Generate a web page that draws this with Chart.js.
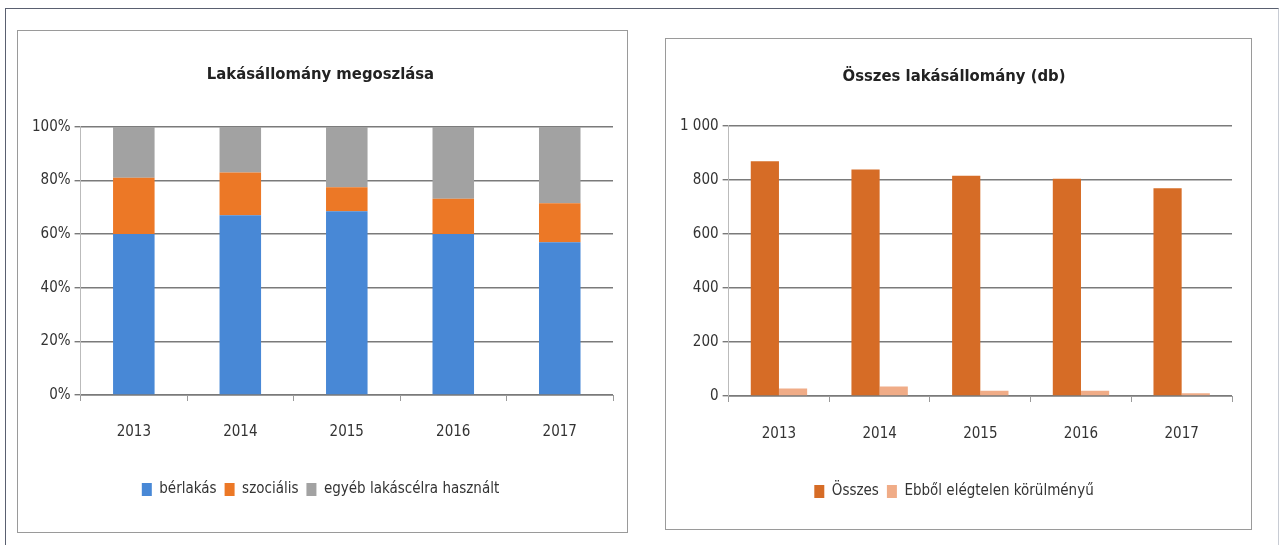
<!DOCTYPE html>
<html>
<head>
<meta charset="utf-8">
<script src="https://cdn.jsdelivr.net/npm/chart.js"></script>
<style>
  body { margin: 0; background: #fff; width: 1282px; height: 545px; position: relative; overflow: hidden; }
  .outer { position: absolute; left: 5px; top: 8px; width: 1272px; height: 560px; border: 1px solid #5a6070; border-right-color: #c8ccd4; }
  .box { position: absolute; border: 1px solid #9a9a9a; background: #fff; }
  #boxA { left: 17px; top: 30px; width: 609px; height: 501px; }
  #boxB { left: 665px; top: 38px; width: 585px; height: 490px; }
  canvas { display: block; }
</style>
</head>
<body>
<div class="outer"></div>
<div class="box" id="boxA"><canvas id="chartA" width="609" height="501"></canvas></div>
<div class="box" id="boxB"><canvas id="chartB" width="585" height="490"></canvas></div>
<script>
// adatok
const years = ['2013', '2014', '2015', '2016', '2017'];

// megoszlás (%)
const berlakas = [60, 67, 68.5, 60, 57];
const szocialis = [21, 16, 9, 13.2, 14.5];
const egyeb = [19, 17, 22.5, 26.8, 28.5];
const pctTicks = [0, 20, 40, 60, 80, 100];

// összes lakásállomány (db)
const osszes = [869, 838, 815, 804, 769];
const elegtelen = [28, 35, 19, 19, 10];
const dbTicks = [0, 200, 400, 600, 800, 1000];

const FONT = "'Liberation Sans Narrow', 'DejaVu Sans Condensed', 'Liberation Sans', sans-serif";
const TXT = '#333';
const GRID = '#7a7a7a';

Chart.defaults.font.family = FONT;
Chart.defaults.color = TXT;

// x tengely: osztásjelek a kategóriák között, fix magasság
function xAxis(pad, h) {
    return {
        grid: { drawOnChartArea: false, drawTicks: true, tickLength: 6, offset: true, color: '#9a9a9a' },
        border: { color: '#9a9a9a' },
        ticks: { font: { size: 15 }, padding: pad, color: TXT },
        afterFit: s => { s.height = h; }
    };
}

function legend() {
    return {
        position: 'bottom',
        labels: { boxWidth: 10, boxHeight: 13, font: { size: 15 }, padding: 8, color: TXT }
    };
}

// bal oldali: 100%-os halmozott oszlop
new Chart(document.getElementById('chartA'), {
    type: 'bar',
    data: {
        labels: years,
        datasets: [
            { label: 'bérlakás', data: berlakas, backgroundColor: 'rgb(72,136,214)' },
            { label: 'szociális', data: szocialis, backgroundColor: 'rgb(236,120,38)' },
            { label: 'egyéb lakáscélra használt', data: egyeb, backgroundColor: 'rgb(162,162,162)' }
        ]
    },
    options: {
        responsive: false,
        animation: false,
        datasets: { bar: { categoryPercentage: 1, barPercentage: 0.39 } },
        layout: { padding: { left: 10, right: 14, top: 10, bottom: 25 } },
        plugins: {
            title: {
                display: true, text: 'Lakásállomány megoszlása',
                font: { size: 16.5, weight: 'bold' }, color: '#222',
                padding: { top: 24, bottom: 42 }
            },
            legend: legend(),
            tooltip: { enabled: false }
        },
        scales: {
            x: Object.assign(xAxis(22, 79), { stacked: true }),
            y: {
                stacked: true, min: 0, max: 100,
                afterBuildTicks: s => { s.ticks = pctTicks.map(v => ({ value: v })); },
                grid: { color: GRID, lineWidth: 1.4, tickLength: 6 },
                border: { display: true, color: '#bbb' },
                ticks: { font: { size: 15 }, padding: 4, color: TXT, callback: v => v + '%' }
            }
        }
    }
});

// jobb oldali: csoportosított oszlop
new Chart(document.getElementById('chartB'), {
    type: 'bar',
    data: {
        labels: years,
        datasets: [
            { label: 'Összes', data: osszes, backgroundColor: 'rgb(214,108,38)' },
            { label: 'Ebből elégtelen körülményű', data: elegtelen, backgroundColor: 'rgb(240,172,135)' }
        ]
    },
    options: {
        responsive: false,
        animation: false,
        datasets: { bar: { categoryPercentage: 0.56, barPercentage: 1 } },
        layout: { padding: { left: 10, right: 19, top: 6, bottom: 20 } },
        plugins: {
            title: {
                display: true, text: 'Összes lakásállomány (db)',
                font: { size: 16.5, weight: 'bold' }, color: '#222',
                padding: { top: 22, bottom: 39 }
            },
            legend: legend(),
            tooltip: { enabled: false }
        },
        scales: {
            x: xAxis(23, 80),
            y: {
                min: 0, max: 1000,
                afterBuildTicks: s => { s.ticks = dbTicks.map(v => ({ value: v })); },
                grid: { color: GRID, lineWidth: 1.4, tickLength: 6 },
                border: { display: true, color: '#bbb' },
                ticks: {
                    font: { size: 15 }, padding: 4, color: TXT,
                    callback: v => v >= 1000 ? '1 000' : String(v)
                }
            }
        }
    }
});
</script>
</body>
</html>
